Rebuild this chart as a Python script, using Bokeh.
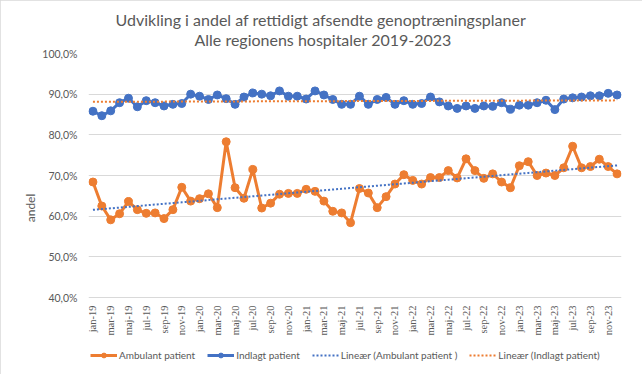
import numpy as np
from bokeh.plotting import figure
from bokeh.models import Range1d, FixedTicker, Legend, LegendItem, Title
from bokeh.embed import file_html
from bokeh.resources import INLINE

months = ["jan", "feb", "mar", "apr", "maj", "jun", "jul", "aug", "sep", "okt", "nov", "dec"]
years = ["19", "20", "21", "22", "23"]
categories = [f"{m}-{y}" for y in years for m in months]

ambulant = [68.4, 62.5, 59.1, 60.6, 63.6, 61.6, 60.7, 60.8, 59.4, 61.6, 67.1, 63.7,
            64.3, 65.5, 62.1, 78.3, 67.0, 64.4, 71.5, 62.0, 63.2, 65.4, 65.6, 65.6,
            66.6, 66.1, 63.7, 61.2, 60.8, 58.4, 66.8, 65.7, 62.1, 64.8, 67.9, 70.2,
            68.8, 67.9, 69.5, 69.5, 71.2, 69.4, 74.1, 71.2, 69.3, 70.4, 68.4, 67.0,
            72.4, 73.4, 70.0, 70.6, 70.0, 71.9, 77.2, 71.9, 72.2, 74.0, 72.2, 70.4]

indlagt = [85.8, 84.7, 85.9, 87.9, 89.0, 86.9, 88.4, 87.9, 87.1, 87.5, 87.7, 90.0,
           89.5, 88.7, 89.8, 88.9, 87.5, 89.3, 90.3, 90.0, 89.6, 90.8, 89.5, 89.5,
           88.8, 90.8, 89.8, 88.7, 87.5, 87.5, 89.5, 87.5, 88.7, 89.2, 87.5, 88.4,
           87.5, 87.7, 89.3, 88.1, 87.1, 86.5, 87.1, 86.5, 87.1, 87.0, 87.9, 86.3,
           87.3, 87.3, 87.9, 88.5, 86.2, 88.8, 89.1, 89.3, 89.6, 89.6, 90.2, 89.8]

y_ticks = [40, 50, 60, 70, 80, 90, 100]
y_tick_labels = ["40,0%", "50,0%", "60,0%", "70,0%", "80,0%", "90,0%", "100,0%"]

title_lines = ["Udvikling i andel af rettidigt afsendte genoptræningsplaner",
               "Alle regionens hospitaler 2019-2023"]
y_label = "andel"
series_names = ["Ambulant patient", "Indlagt patient",
                "Lineær (Ambulant patient )", "Lineær (Indlagt patient)"]

ORANGE = "#ED7D31"
BLUE = "#4472C4"
TXT = "#595959"
GRID = "#D9D9D9"
FONT = "Lato"

# layout: plot area 533x244 px, plus a 65 px strip below it (inside the frame)
# that holds the month labels and the legend
PLOT_W, PLOT_H, STRIP_H = 533, 244, 65
Y_MIN, Y_MAX = y_ticks[0], y_ticks[-1]
y_bottom = Y_MIN - (Y_MAX - Y_MIN) * STRIP_H / PLOT_H

x = np.arange(len(categories))
fit_amb = np.polyval(np.polyfit(x, ambulant, 1), x)
fit_ind = np.polyval(np.polyfit(x, indlagt, 1), x)

p = figure(frame_width=PLOT_W, frame_height=PLOT_H + STRIP_H,
           output_backend="svg", toolbar_location=None, x_axis_location=None,
           x_range=Range1d(-0.5, len(categories) - 0.5), y_range=Range1d(y_bottom, Y_MAX),
           min_border_left=88, min_border_right=21, min_border_top=53, min_border_bottom=12)
p.outline_line_color = None
p.styles = {"outline": "1px solid #D9D9D9", "outline-offset": "-1px"}

p.yaxis.ticker = FixedTicker(ticks=y_ticks)
p.yaxis.bounds = (Y_MIN, Y_MAX)
p.yaxis.major_label_overrides = {t: l for t, l in zip(y_ticks, y_tick_labels)}
p.yaxis.axis_line_color = None
p.yaxis.major_tick_line_color = None
p.yaxis.minor_tick_line_color = None
p.yaxis.major_label_text_font = FONT
p.yaxis.major_label_text_font_size = "10.5px"
p.yaxis.major_label_text_color = TXT
p.yaxis.major_label_standoff = 5
p.yaxis.axis_label = y_label
p.yaxis.axis_label_text_font = FONT
p.yaxis.axis_label_text_font_size = "12px"
p.yaxis.axis_label_text_font_style = "normal"
p.yaxis.axis_label_text_color = TXT
p.yaxis.axis_label_standoff = 1

p.xgrid.grid_line_color = None
p.ygrid.grid_line_color = GRID
p.ygrid.grid_line_width = 1

# month labels (every second month), vertical, just below the 40 % line
even = [int(i) for i in x[::2]]
p.text(x=even, y=[Y_MIN] * len(even), text=[categories[i] for i in even],
       angle=np.pi / 2, text_align="right", text_baseline="middle", y_offset=8,
       text_font=FONT, text_font_size="10.5px", text_color=TXT)

r_amb_l = p.line(x, ambulant, line_color=ORANGE, line_width=3)
r_amb_s = p.scatter(x, ambulant, size=8, marker="circle", fill_color=ORANGE, line_color=ORANGE)
r_ind_l = p.line(x, indlagt, line_color=BLUE, line_width=3)
r_ind_s = p.scatter(x, indlagt, size=8, marker="circle", fill_color=BLUE, line_color=BLUE)
r_tr_amb = p.line(x, fit_amb, line_color=BLUE, line_width=2, line_dash="2 2")
r_tr_ind = p.line(x, fit_ind, line_color=ORANGE, line_width=2, line_dash="2 2")

t2 = Title(text=title_lines[1], align="left", offset=106, standoff=10,
           text_font=FONT, text_font_size="16px", text_font_style="normal", text_color=TXT)
t1 = Title(text=title_lines[0], align="left", offset=27, standoff=-13,
           text_font=FONT, text_font_size="16px", text_font_style="normal", text_color=TXT)
p.add_layout(t2, "above")
p.add_layout(t1, "above")

legend = Legend(items=[
    LegendItem(label=series_names[0], renderers=[r_amb_l, r_amb_s]),
    LegendItem(label=series_names[1], renderers=[r_ind_l, r_ind_s]),
    LegendItem(label=series_names[2], renderers=[r_tr_amb]),
    LegendItem(label=series_names[3], renderers=[r_tr_ind]),
], orientation="horizontal", location=(2, 1))
legend.glyph_width = 27
legend.glyph_height = 12
legend.label_standoff = 2
legend.spacing = 12
legend.padding = 0
legend.margin = 0
legend.border_line_color = None
legend.background_fill_alpha = 0
legend.label_text_font = FONT
legend.label_text_font_size = "10px"
legend.label_text_color = TXT
legend.label_height = 12
p.add_layout(legend, "center")

open("out.html", "w").write(file_html(p, INLINE))
